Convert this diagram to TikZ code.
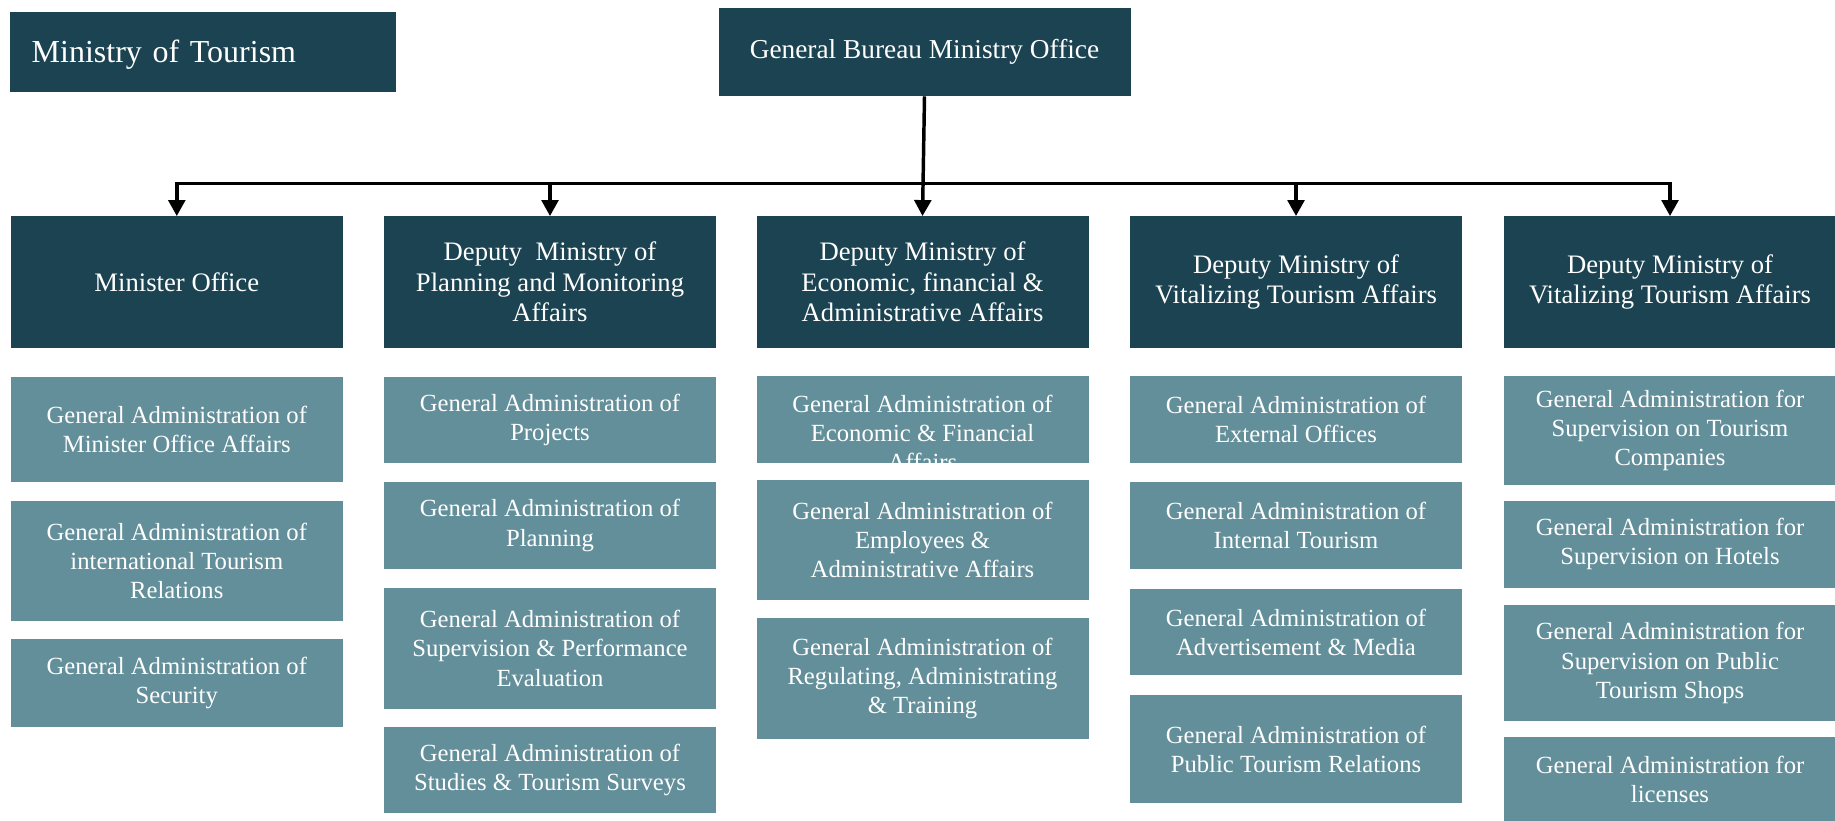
\documentclass[tikz,border=0pt]{standalone}
\usepackage{fontspec}
\setmainfont{Liberation Serif}
\usepackage{tikz}
\usetikzlibrary{positioning,arrows.meta}

\definecolor{deepteal}{HTML}{1B4351}
\definecolor{paleteal}{HTML}{638F9A}

\begin{document}
\begin{tikzpicture}[
        x=0.75pt, y=-0.75pt,
        title/.style={rectangle, fill=deepteal, text=white, minimum width=289pt, minimum height=60.6pt, inner xsep=15.8pt, text width=257pt, text height=16pt, text depth=0pt, align=left, font=\fontsize{24}{29}\selectfont},
        bureau/.style={rectangle, fill=deepteal, text=white, minimum width=309pt, minimum height=66pt, align=center, font=\fontsize{20.5}{24}\selectfont},
        head/.style={rectangle, fill=deepteal, text=white, minimum width=249pt, minimum height=98.5pt, align=center, font=\fontsize{20}{22.8}\selectfont},
        unittext/.style={text=white, align=center, font=\fontsize{18.5}{21.8}\selectfont},
        unit/.style={rectangle, fill=paleteal, minimum width=249pt, unittext},
        arrow/.style={line width=2.6pt, -{Triangle[length=12pt,width=12.5pt]}},
        busline/.style={line width=2.6pt, line cap=rect}
    ]
        \useasboundingbox (0,0) rectangle (1835,821);

        % Top row
        \node[title] (ministry) at (203,52) {Ministry of Tourism};
        \node[bureau] (bureau) at (924.5,52) {General Bureau Ministry Office};

        % Deputy ministries
        \node[head] (minoff) at (176.8,282) {Minister Office};
        \node[head] (planning) at (550,282) {Deputy~ Ministry of\\Planning and Monitoring\\Affairs};
        \node[head] (econ) at (922.5,282) {Deputy Ministry of\\Economic, financial \&\\Administrative Affairs};
        \node[head] (vitala) at (1296,282) {Deputy Ministry of\\Vitalizing Tourism Affairs};
        \node[head] (vitalb) at (1670,282) {Deputy Ministry of\\Vitalizing Tourism Affairs};

        % Connections
        \coordinate (bus) at (0,183.7);
        \draw[arrow] (bureau.south) -- (econ.north);
        \draw[busline] (minoff.north |- bus) -- (vitalb.north |- bus);
        \foreach \dep in {minoff,planning,vitala,vitalb}
            \draw[arrow] (\dep.north |- bus) -- (\dep.north);

        % Minister office units
        \node[unit, minimum height=79pt] (mina) at (176.8,429.5) {General Administration of\\Minister Office Affairs};
        \node[unit, minimum height=90.4pt] (minb) at (176.8,561.2) {General Administration of\\international Tourism\\Relations};
        \node[unit, minimum height=65.9pt] (minc) at (176.8,682.9) {General Administration of\\Security};

        % Planning units
        \node[unit, minimum height=65pt] (plana) at (550,420.1) {General Administration of\\Projects};
        \node[unit, minimum height=65pt] (planb) at (550,525.5) {General Administration of\\Planning};
        \node[unit, minimum height=91.3pt] (planc) at (550,648.4) {General Administration of\\Supervision \& Performance\\Evaluation};
        \node[unit, minimum height=65pt] (pland) at (550,770.1) {General Administration of\\Studies \& Tourism Surveys};

        % Economic units (first one cut off at the bottom)
        \node[unit, minimum height=65.8pt, path picture={
                \node[unittext, yshift=-9.8pt] (econatext) at (path picture bounding box.center) {General Administration of\\Economic \& Financial\\Affairs};
            }] (econa) at (922.5,419.6) {};
        \node[unit, minimum height=90.5pt] (econb) at (922.5,540.1) {General Administration of\\Employees \&\\Administrative Affairs};
        \node[unit, minimum height=90.5pt] (econc) at (922.5,678.2) {General Administration of\\Regulating, Administrating\\\& Training};

        % Vitalizing units
        \node[unit, minimum height=65.8pt] (vita) at (1296,419.6) {General Administration of\\External Offices};
        \node[unit, minimum height=65pt] (vitb) at (1296,525.5) {General Administration of\\Internal Tourism};
        \node[unit, minimum height=65pt] (vitc) at (1296,632) {General Administration of\\Advertisement \& Media};
        \node[unit, minimum height=80.7pt] (vitd) at (1296,749) {General Administration of\\Public Tourism Relations};

        % Supervision units
        \node[unit, minimum height=81.6pt] (supa) at (1670,430.1) {General Administration for\\Supervision on Tourism\\Companies};
        \node[unit, minimum height=65pt] (supb) at (1670,544.2) {General Administration for\\Supervision on Hotels};
        \node[unit, minimum height=87pt] (supc) at (1670,663) {General Administration for\\Supervision on Public\\Tourism Shops};
        \node[unit, minimum height=62.8pt] (supd) at (1670,779.2) {General Administration for\\licenses};
    \end{tikzpicture}
\end{document}
